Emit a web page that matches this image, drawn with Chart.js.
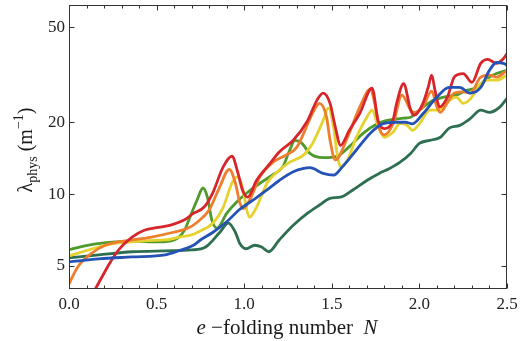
<!DOCTYPE html>
<html><head><meta charset="utf-8">
<script src="https://cdn.jsdelivr.net/npm/chart.js@4/dist/chart.umd.min.js"></script>
<style>html,body{margin:0;padding:0;background:#fff}</style>
</head><body>
<canvas id="c" width="521" height="341"></canvas>
<script>
// ---- data ----
const xTicks = [0, 0.5, 1.0, 1.5, 2.0, 2.5];
const yTicks = [5, 10, 20, 50];

const redX = [0, 0.08, 0.15, 0.22, 0.28, 0.36, 0.43, 0.51, 0.59, 0.66, 0.71, 0.77, 0.82, 0.88, 0.93, 0.965, 0.99, 1.02, 1.07, 1.15, 1.2, 1.28, 1.36, 1.415, 1.45, 1.49, 1.52, 1.55, 1.6, 1.66, 1.73, 1.765, 1.8, 1.85, 1.87, 1.91, 1.95, 1.97, 2.02, 2.05, 2.07, 2.09, 2.115, 2.16, 2.2, 2.25, 2.3, 2.35, 2.39, 2.44, 2.48, 2.5];
const redY = [2.6, 3.3, 4.0, 4.95, 5.8, 6.6, 7.05, 7.25, 7.45, 7.8, 8.3, 8.8, 10.1, 13.0, 14.4, 12.2, 10.4, 9.7, 11.4, 13.5, 15.0, 16.8, 20.2, 24.7, 26.5, 24.0, 19.1, 16.0, 18.5, 21.8, 27.8, 20.2, 18.8, 20.5, 24.0, 29.0, 22.5, 21.4, 24.0, 28.0, 31.5, 27.0, 23.2, 25.5, 31.0, 32.0, 29.4, 35.3, 36.7, 35.3, 37.0, 38.8];

const orangeX = [0, 0.05, 0.13, 0.21, 0.28, 0.36, 0.47, 0.59, 0.68, 0.73, 0.8, 0.86, 0.915, 0.95, 0.975, 0.995, 1.03, 1.09, 1.16, 1.24, 1.3, 1.34, 1.39, 1.43, 1.47, 1.49, 1.52, 1.59, 1.66, 1.72, 1.745, 1.77, 1.8, 1.85, 1.9, 1.95, 1.97, 2.02, 2.07, 2.1, 2.12, 2.16, 2.2, 2.25, 2.29, 2.35, 2.4, 2.44, 2.5];
const orangeY = [4.2, 4.95, 5.66, 6.12, 6.3, 6.42, 6.6, 6.9, 7.2, 7.6, 8.57, 10.7, 12.7, 11.1, 9.2, 8.7, 9.4, 11.8, 13.5, 14.6, 15.7, 18.0, 21.8, 24.0, 21.0, 16.8, 13.9, 17.3, 23.2, 27.5, 24.0, 19.0, 17.7, 19.7, 26.0, 22.5, 22.0, 23.2, 27.0, 23.2, 22.0, 24.2, 26.5, 26.8, 26.5, 30.9, 31.5, 30.9, 33.0];

const yellowX = [0, 0.1, 0.17, 0.25, 0.36, 0.45, 0.55, 0.63, 0.7, 0.73, 0.82, 0.88, 0.93, 0.96, 0.99, 1.015, 1.03, 1.07, 1.13, 1.19, 1.26, 1.34, 1.39, 1.45, 1.48, 1.51, 1.53, 1.55, 1.59, 1.64, 1.7, 1.73, 1.76, 1.8, 1.85, 1.89, 1.93, 1.96, 2.0, 2.06, 2.1, 2.14, 2.17, 2.21, 2.25, 2.29, 2.35, 2.39, 2.44, 2.5];
const yellowY = [5.5, 5.8, 6.0, 6.2, 6.3, 6.38, 6.42, 6.6, 6.74, 6.9, 7.55, 8.8, 11.1, 11.8, 10.7, 8.57, 8.0, 8.8, 11.1, 12.4, 13.6, 14.6, 16.3, 20.3, 22.9, 19.1, 14.8, 13.0, 13.9, 17.3, 21.0, 22.5, 19.7, 17.3, 18.2, 19.8, 19.4, 18.5, 19.7, 22.5, 22.5, 23.2, 24.7, 25.5, 24.0, 25.0, 29.0, 30.0, 30.0, 31.5];

const greenX = [0, 0.09, 0.2, 0.36, 0.51, 0.6, 0.66, 0.69, 0.73, 0.765, 0.79, 0.815, 0.845, 0.9, 0.96, 1.015, 1.09, 1.16, 1.22, 1.26, 1.29, 1.33, 1.375, 1.45, 1.53, 1.6, 1.68, 1.76, 1.81, 1.91, 1.95, 2.0, 2.08, 2.14, 2.21, 2.27, 2.33, 2.39, 2.44, 2.5];
const greenY = [5.85, 6.07, 6.24, 6.35, 6.3, 6.42, 7.07, 8.0, 9.4, 10.6, 9.7, 7.8, 7.2, 8.3, 9.3, 10.1, 11.1, 12.0, 13.0, 15.3, 16.8, 16.3, 14.8, 14.2, 14.4, 15.8, 18.0, 19.7, 20.3, 20.8, 21.0, 22.5, 24.7, 25.5, 26.0, 27.2, 28.0, 30.6, 32.0, 33.0];

const blueX = [0, 0.17, 0.36, 0.55, 0.63, 0.71, 0.75, 0.82, 0.9, 0.97, 1.05, 1.13, 1.2, 1.28, 1.34, 1.375, 1.45, 1.51, 1.56, 1.64, 1.72, 1.79, 1.87, 1.92, 1.96, 2.02, 2.1, 2.17, 2.23, 2.29, 2.35, 2.4, 2.44, 2.48, 2.5];
const blueY = [5.2, 5.35, 5.45, 5.56, 5.8, 6.1, 6.42, 6.9, 7.65, 8.57, 9.44, 10.4, 11.4, 12.4, 12.8, 12.9, 12.2, 12.0, 13.0, 15.3, 18.0, 19.7, 20.0, 20.0, 19.7, 21.7, 25.5, 28.0, 28.0, 26.5, 28.0, 33.0, 35.6, 35.3, 34.7];

const tealX = [0, 0.17, 0.36, 0.55, 0.7, 0.78, 0.86, 0.91, 0.95, 0.975, 1.01, 1.06, 1.1, 1.14, 1.2, 1.28, 1.36, 1.43, 1.49, 1.55, 1.62, 1.7, 1.77, 1.83, 1.89, 1.95, 2.0, 2.06, 2.12, 2.17, 2.23, 2.29, 2.35, 2.4, 2.46, 2.5];
const tealY = [5.4, 5.56, 5.73, 5.78, 5.83, 6.0, 6.9, 7.55, 6.9, 6.2, 5.9, 6.1, 6.0, 5.73, 6.42, 7.4, 8.3, 9.0, 9.6, 9.7, 10.4, 11.4, 12.2, 12.8, 13.6, 14.8, 16.3, 16.8, 17.3, 18.9, 19.4, 20.7, 22.5, 22.0, 23.2, 25.2];

// ---- build ----
function pts(xs, ys) { return xs.map((x, i) => ({ x: x, y: ys[i] })); }
function ds(xs, ys, color) {
  return { data: pts(xs, ys), borderColor: color, borderWidth: 2.8, pointRadius: 0,
           cubicInterpolationMode: 'monotone', fill: false };
}

const SERIF = '"Liberation Serif", "DejaVu Serif", serif';

const framePlugin = {
  id: 'frame',
  afterDraw(chart) {
    const ctx = chart.ctx, ca = chart.chartArea;
    const sx = chart.scales.x, sy = chart.scales.y;
    const L = Math.round(ca.left) + 0.5, R = Math.round(ca.right) - 0.5;
    const T = Math.round(ca.top) + 0.5, B = Math.round(ca.bottom) - 0.5;
    ctx.save();
    ctx.strokeStyle = '#333';
    ctx.lineWidth = 1;
    ctx.strokeRect(L, T, R - L, B - T);
    ctx.beginPath();
    for (let k = 0; k <= 25; k++) {
      const v = k / 10;
      const major = (k % 5 === 0);
      const len = major ? 5 : 3;
      const px = Math.round(sx.getPixelForValue(v)) + 0.5;
      ctx.moveTo(px, B); ctx.lineTo(px, B - len);
      ctx.moveTo(px, T); ctx.lineTo(px, T + len);
    }
    yTicks.forEach(v => {
      const py = Math.round(sy.getPixelForValue(v)) + 0.5;
      ctx.moveTo(L, py); ctx.lineTo(L + 5, py);
      ctx.moveTo(R, py); ctx.lineTo(R - 5, py);
    });
    ctx.stroke();

    // x axis title
    ctx.fillStyle = '#1a1a1a';
    ctx.textBaseline = 'alphabetic';
    ctx.textAlign = 'left';
    const fi = 'italic 21px ' + SERIF, fr = '21px ' + SERIF;
    const xparts = [['e', fi, 0], [' \u2212folding number  ', fr, 0], ['N', fi, 0]];
    drawParts(ctx, xparts, 287, 334);

    // y axis title (rotated)
    ctx.save();
    ctx.translate(32, 150);
    ctx.rotate(-Math.PI / 2);
    const fm = '20px ' + SERIF, fs = '14px ' + SERIF;
    const yparts = [['\u03BB', fm, 0], ['phys', fs, 5], [' (m', fm, 0], ['\u22121', fs, -9], [')', fm, 0]];
    drawParts(ctx, yparts, 0, 0);
    ctx.restore();
    ctx.restore();
  }
};

function drawParts(ctx, parts, cx, by) {
  let total = 0;
  parts.forEach(p => { ctx.font = p[1]; total += ctx.measureText(p[0]).width; });
  let x = cx - total / 2;
  parts.forEach(p => {
    ctx.font = p[1];
    ctx.fillText(p[0], x, by + p[2]);
    x += ctx.measureText(p[0]).width;
  });
}

new Chart(document.getElementById('c'), {
  type: 'line',
  data: {
    datasets: [
      ds(blueX, blueY, '#2553b5'),
      ds(redX, redY, '#d6262b'),
      ds(orangeX, orangeY, '#ee7e2e'),
      ds(yellowX, yellowY, '#e5d22e'),
      ds(greenX, greenY, '#4f9a2c'),
      ds(tealX, tealY, '#2e6f52')
    ]
  },
  options: {
    responsive: false,
    animation: false,
    layout: { padding: { top: 5, right: 14, left: 0, bottom: 0 } },
    plugins: { legend: { display: false }, tooltip: { enabled: false } },
    scales: {
      x: {
        type: 'linear', min: 0, max: 2.5,
        afterBuildTicks: s => { s.ticks = xTicks.map(v => ({ value: v })); },
        afterFit: s => { s.height = 52; s.paddingLeft = 0; s.paddingRight = 0; },
        grid: { display: false, drawTicks: false },
        border: { display: false },
        ticks: { padding: 5, color: '#222', font: { family: SERIF, size: 17 }, maxRotation: 0,
                 callback: v => Number(v).toFixed(1) }
      },
      y: {
        type: 'logarithmic', min: 4, max: 62,
        afterBuildTicks: s => { s.ticks = yTicks.map(v => ({ value: v })); },
        afterFit: s => { s.width = 69; s.paddingTop = 0; s.paddingBottom = 0; },
        grid: { display: false, drawTicks: false },
        border: { display: false },
        ticks: { padding: 4, color: '#222', font: { family: SERIF, size: 17 },
                 callback: v => String(v) }
      }
    }
  },
  plugins: [framePlugin]
});
</script>
</body></html>
